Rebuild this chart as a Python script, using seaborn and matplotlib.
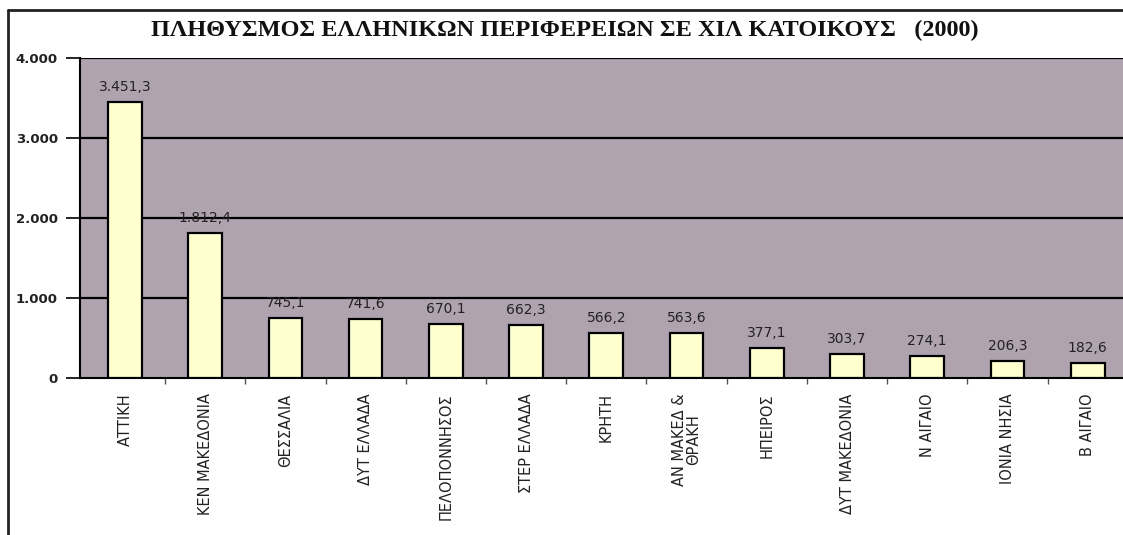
import matplotlib
matplotlib.use("Agg")
import matplotlib.pyplot as plt
import seaborn as sns
import pandas as pd
import numpy as np
from matplotlib.lines import Line2D
from matplotlib.ticker import FuncFormatter, FixedLocator

regions = ["ΑΤΤΙΚΗ", "ΚΕΝ ΜΑΚΕΔΟΝΙΑ", "ΘΕΣΣΑΛΙΑ", "ΔΥΤ ΕΛΛΑΔΑ", "ΠΕΛΟΠΟΝΝΗΣΟΣ",
           "ΣΤΕΡ ΕΛΛΑΔΑ", "ΚΡΗΤΗ", "ΑΝ ΜΑΚΕΔ &\nΘΡΑΚΗ", "ΗΠΕΙΡΟΣ", "ΔΥΤ ΜΑΚΕΔΟΝΙΑ",
           "Ν ΑΙΓΑΙΟ", "ΙΟΝΙΑ ΝΗΣΙΑ", "Β ΑΙΓΑΙΟ"]
population = [3451.3, 1812.4, 745.1, 741.6, 670.1, 662.3, 566.2, 563.6,
              377.1, 303.7, 274.1, 206.3, 182.6]
yticks = [0, 1000, 2000, 3000, 4000]
title = "ΠΛΗΘΥΣΜΟΣ ΕΛΛΗΝΙΚΩΝ ΠΕΡΙΦΕΡΕΙΩΝ ΣΕ ΧΙΛ ΚΑΤΟΙΚΟΥΣ   (2000)"

df = pd.DataFrame({"region": regions, "population": population})

sns.set_theme(style="white")
plt.rcParams['font.family'] = ['DejaVu Sans']


def gr_fmt(v, decimals=1):
    s = f"{v:,.{decimals}f}"
    return s.replace(",", "X").replace(".", ",").replace("X", ".")


fig = plt.figure(figsize=(11.23, 5.35), dpi=100)
fig.patch.set_facecolor("white")
ax = fig.add_axes([80 / 1123, 1 - 378 / 535, 1 - 80 / 1123, (378 - 58) / 535])
ax.set_facecolor("#b0a3b0")

sns.barplot(data=df, x="region", y="population", color="#ffffd0",
            edgecolor="black", linewidth=1.6, width=0.42, saturation=1, ax=ax,
            zorder=3)

ax.set_ylim(0, 4000)
ax.set_xlim(-0.56, len(regions) - 0.56)
ax.set_yticks(yticks)
ax.yaxis.set_major_formatter(FuncFormatter(lambda v, p: gr_fmt(v, 0)))
for t in yticks[1:]:
    ax.axhline(t, color="black", linewidth=1.6, zorder=1)

ax.set_xlabel("")
ax.set_ylabel("")
for s in ["top", "right"]:
    ax.spines[s].set_visible(False)
ax.spines["left"].set_color("black")
ax.spines["bottom"].set_color("black")
ax.spines["left"].set_linewidth(1.5)
ax.spines["bottom"].set_linewidth(1.5)

ax.tick_params(axis="y", left=True, length=10, width=1.2, color="black",
               labelsize=9.5, pad=6, labelcolor="#222222")
ax.set_xticks(range(len(regions)))
ax.set_xticklabels(regions, rotation=90, fontsize=10.5, ha="center", va="top",
                   color="#222222", linespacing=1.0)
ax.tick_params(axis="x", which="major", bottom=False, pad=5)
ax.xaxis.set_minor_locator(FixedLocator(np.arange(len(regions)) + 0.5))
ax.tick_params(axis="x", which="minor", bottom=True, length=4, width=1,
               color="#555555", direction="out")
for lab in ax.get_yticklabels():
    lab.set_fontweight("bold")

for i, v in enumerate(population):
    ax.text(i, v + 100, gr_fmt(v), ha="center", va="bottom", fontsize=10,
            color="#222222", zorder=4)

fig.text(0.503, 1 - 30 / 535, title, ha="center", va="center",
         fontsize=17.5, fontweight="bold", family=["Liberation Serif", "DejaVu Serif"],
         color="#111111")

# outer frame lines
fig.add_artist(Line2D([8 / 1123, 1.0], [1 - 10 / 535, 1 - 10 / 535],
                      transform=fig.transFigure, color="#222222", linewidth=2))
fig.add_artist(Line2D([8 / 1123, 8 / 1123], [1 - 10 / 535, 0.0],
                      transform=fig.transFigure, color="#222222", linewidth=2))

fig.savefig("out.png", dpi=100)
